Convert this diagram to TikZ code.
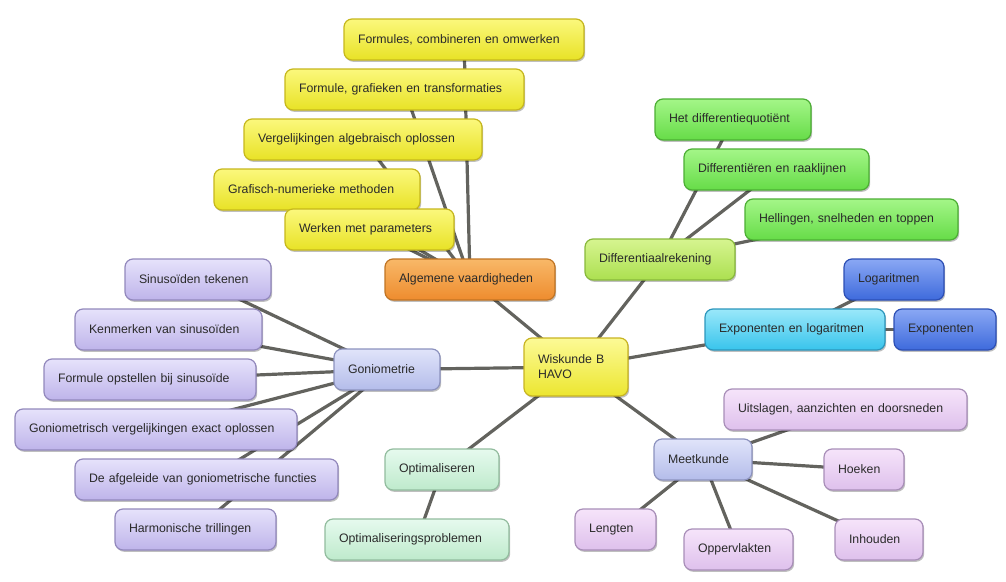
\documentclass[tikz,border=0pt]{standalone}
\usepackage{fontspec}
\setmainfont{Liberation Sans}
\usetikzlibrary{shadows,backgrounds}
\definecolor{txt}{HTML}{2A2A2A}
\definecolor{lnk}{HTML}{63635E}
\definecolor{yelT}{HTML}{FBF87C}\definecolor{yelB}{HTML}{E8E226}\definecolor{yelD}{HTML}{C6B71C}
\definecolor{ornT}{HTML}{F8B868}\definecolor{ornB}{HTML}{EE8C2E}\definecolor{ornD}{HTML}{C07424}
\definecolor{lavT}{HTML}{E6E2FB}\definecolor{lavB}{HTML}{BEB4EA}\definecolor{lavD}{HTML}{9288BC}
\definecolor{gonT}{HTML}{E0E4FA}\definecolor{gonB}{HTML}{B4BCEA}\definecolor{gonD}{HTML}{8C92BE}
\definecolor{lgrT}{HTML}{D6F490}\definecolor{lgrB}{HTML}{ACE050}\definecolor{lgrD}{HTML}{88B83C}
\definecolor{grnT}{HTML}{A4F688}\definecolor{grnB}{HTML}{66DC48}\definecolor{grnD}{HTML}{4CAE34}
\definecolor{bluT}{HTML}{8AA8F4}\definecolor{bluB}{HTML}{3E6ADC}\definecolor{bluD}{HTML}{2C4EB4}
\definecolor{cyaT}{HTML}{9AE8FA}\definecolor{cyaB}{HTML}{38C4EC}\definecolor{cyaD}{HTML}{2C96BC}
\definecolor{pnkT}{HTML}{F6E4FA}\definecolor{pnkB}{HTML}{DEC0EC}\definecolor{pnkD}{HTML}{A88EB8}
\definecolor{mntT}{HTML}{E6FAEE}\definecolor{mntB}{HTML}{BEEACC}\definecolor{mntD}{HTML}{92BC9E}
\definecolor{cenT}{HTML}{FCFA96}\definecolor{cenB}{HTML}{ECE630}\definecolor{cenD}{HTML}{C8B422}
\tikzset{
  mm/.style={rectangle, rounded corners=8pt, line width=1.2pt, inner xsep=14pt, inner ysep=0pt,
    align=left, text=txt, font=\fontsize{12.3}{15}\selectfont,
    drop shadow={shadow xshift=1.2pt, shadow yshift=-1.8pt, opacity=0.25, fill=black}},
  yel/.style={mm, top color=yelT, bottom color=yelB, draw=yelD},
  orn/.style={mm, top color=ornT, bottom color=ornB, draw=ornD},
  lav/.style={mm, top color=lavT, bottom color=lavB, draw=lavD},
  gon/.style={mm, top color=gonT, bottom color=gonB, draw=gonD},
  lgr/.style={mm, top color=lgrT, bottom color=lgrB, draw=lgrD},
  grn/.style={mm, top color=grnT, bottom color=grnB, draw=grnD},
  blu/.style={mm, top color=bluT, bottom color=bluB, draw=bluD},
  cya/.style={mm, top color=cyaT, bottom color=cyaB, draw=cyaD},
  pnk/.style={mm, top color=pnkT, bottom color=pnkB, draw=pnkD},
  mnt/.style={mm, top color=mntT, bottom color=mntB, draw=mntD},
  cen/.style={mm, top color=cenT, bottom color=cenB, draw=cenD},
  conn/.style={draw=lnk, line width=3.2pt, line cap=round},
}
\newcommand{\mmnode}[7]{%
  \node[#6, minimum width={(#4-#2)*1pt}, minimum height={(#5-#3)*1pt},
        text width={(#4-#2-28)*1pt}] (#1) at ({(#2+#4)/2},{-(#3+#5)/2}) {#7};}
\begin{document}
\begin{tikzpicture}[x=1pt,y=1pt]
\useasboundingbox (0,0) rectangle (1006,-581);
% nodes
\mmnode{wis}{524}{338}{628}{396}{cen}{Wiskunde B\\HAVO}
\mmnode{alg}{385}{259}{555}{300}{orn}{Algemene vaardigheden}
\mmnode{f1}{344}{19}{584}{60}{yel}{Formules, combineren en omwerken}
\mmnode{f2}{285}{69}{524}{110}{yel}{Formule, grafieken en transformaties}
\mmnode{f3}{244}{119}{482}{160}{yel}{Vergelijkingen algebraisch oplossen}
\mmnode{f4}{214}{169}{420}{210}{yel}{Grafisch-numerieke methoden}
\mmnode{f5}{285}{209}{454}{250}{yel}{Werken met parameters}
\mmnode{gon}{334}{349}{440}{390}{gon}{Goniometrie}
\mmnode{g1}{125}{259}{271}{300}{lav}{Sinusoïden tekenen}
\mmnode{g2}{75}{309}{262}{350}{lav}{Kenmerken van sinusoïden}
\mmnode{g3}{44}{359}{256}{400}{lav}{Formule opstellen bij sinusoïde}
\mmnode{g4}{15}{409}{297}{450}{lav}{Goniometrisch vergelijkingen exact oplossen}
\mmnode{g5}{75}{459}{338}{500}{lav}{De afgeleide van goniometrische functies}
\mmnode{g6}{115}{509}{276}{550}{lav}{Harmonische trillingen}
\mmnode{opt}{385}{449}{499}{490}{mnt}{Optimaliseren}
\mmnode{op1}{325}{519}{509}{560}{mnt}{Optimaliseringsproblemen}
\mmnode{dif}{585}{239}{735}{280}{lgr}{Differentiaalrekening}
\mmnode{d1}{655}{99}{811}{140}{grn}{Het differentiequotiënt}
\mmnode{d2}{684}{149}{869}{190}{grn}{Differentiëren en raaklijnen}
\mmnode{d3}{745}{199}{958}{240}{grn}{Hellingen, snelheden en toppen}
\mmnode{exl}{705}{309}{885}{350}{cya}{Exponenten en logaritmen}
\mmnode{e1}{844}{259}{944}{300}{blu}{Logaritmen}
\mmnode{e2}{894}{309}{996}{350}{blu}{Exponenten}
\mmnode{mee}{654}{439}{752}{480}{gon}{Meetkunde}
\mmnode{m1}{724}{389}{967}{430}{pnk}{Uitslagen, aanzichten en doorsneden}
\mmnode{m2}{824}{449}{904}{490}{pnk}{Hoeken}
\mmnode{m3}{575}{509}{656}{550}{pnk}{Lengten}
\mmnode{m4}{684}{529}{793}{570}{pnk}{Oppervlakten}
\mmnode{m5}{835}{519}{923}{560}{pnk}{Inhouden}
% connectors behind the nodes
\begin{scope}[on background layer]
\foreach \a/\b in {wis/alg, wis/gon, wis/dif, wis/exl, wis/mee, wis/opt,
  alg/f1, alg/f2, alg/f3, alg/f4, alg/f5,
  gon/g1, gon/g2, gon/g3, gon/g4, gon/g5, gon/g6,
  opt/op1, dif/d1, dif/d2, dif/d3, exl/e1, exl/e2,
  mee/m1, mee/m2, mee/m3, mee/m4, mee/m5}
  \draw[conn] (\a.center) -- (\b.center);
\end{scope}
\end{tikzpicture}
\end{document}
